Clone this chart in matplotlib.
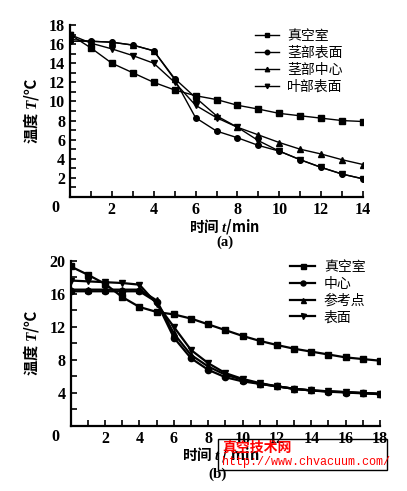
import matplotlib
matplotlib.use('Agg')
import matplotlib.pyplot as plt
from matplotlib.patches import Rectangle

plt.rcParams['font.family'] = ['Liberation Serif', 'Noto Sans CJK SC']
plt.rcParams['mathtext.fontset'] = 'custom'
plt.rcParams['mathtext.it'] = 'Liberation Serif:italic:bold'

CJK = ['Noto Sans CJK SC', 'DejaVu Sans']

# (a) data, t = 0..14 min
t_a = list(range(15))
a_vacuum = [17.0, 15.6, 14.0, 13.0, 12.0, 11.2, 10.6, 10.2, 9.6, 9.2, 8.75, 8.5, 8.25, 8.0, 7.9]
a_stem_surf = [16.3, 16.3, 16.2, 15.9, 15.3, 12.3, 8.3, 6.9, 6.2, 5.4, 4.8, 3.9, 3.1, 2.4, 1.9]
a_stem_core = [16.5, 16.3, 16.2, 15.9, 15.3, 12.4, 10.4, 8.5, 7.3, 6.5, 5.7, 5.0, 4.5, 3.9, 3.4]
a_leaf_surf = [17.0, 16.1, 15.5, 14.8, 14.0, 12.0, 9.6, 8.3, 7.3, 5.9, 4.8, 3.9, 3.1, 2.4, 1.9]
a_labels = ['真空室', '茎部表面', '茎部中心', '叶部表面']

# (b) data, t = 0..18 min
t_b = list(range(19))
b_vacuum = [19.3, 18.3, 17.2, 15.6, 14.4, 13.8, 13.5, 13.0, 12.3, 11.6, 10.9, 10.3, 9.8, 9.35, 9.0, 8.65, 8.3, 8.1, 7.9]
b_center = [16.3, 16.3, 16.3, 16.3, 16.3, 15.0, 10.7, 8.2, 6.8, 5.9, 5.4, 5.1, 4.8, 4.5, 4.3, 4.15, 4.05, 3.95, 3.85]
b_ref = [16.5, 16.5, 16.5, 16.5, 16.5, 15.2, 11.2, 8.6, 7.2, 6.2, 5.6, 5.1, 4.8, 4.5, 4.3, 4.2, 4.1, 4.0, 3.9]
b_surface = [17.6, 17.5, 17.4, 17.3, 17.1, 14.8, 12.0, 9.2, 7.6, 6.4, 5.7, 5.2, 4.8, 4.5, 4.3, 4.2, 4.1, 4.0, 3.9]
b_labels = ['真空室', '中心', '参考点', '表面']

markers = ['s', 'o', '^', 'v']

fig = plt.figure(figsize=(4.07, 4.91), dpi=100)
ax1 = fig.add_axes([70 / 407, 1 - 197 / 491, 293 / 407, 172 / 491])
ax2 = fig.add_axes([70.7 / 407, 1 - 426 / 491, 309.3 / 407, 165.3 / 491])


def style_axes(ax, xmax, ymax, ystep, ylab_step):
    for s in ['top', 'right']:
        ax.spines[s].set_visible(False)
    for s in ['left', 'bottom']:
        ax.spines[s].set_linewidth(1.6)
    ax.set_xlim(0, xmax)
    ax.set_ylim(0, ymax)
    ax.set_xticks(range(0, xmax + 1, 2))
    ax.set_xticks(range(0, xmax + 1), minor=True)
    ax.set_yticks(range(ylab_step, ymax + 1, ylab_step))
    ax.set_yticks(range(ystep, ymax + 1, ystep), minor=True)
    ax.tick_params(which='both', direction='in', length=4, width=1.2)
    ax.tick_params(labelsize=11.5)
    ax.set_xticklabels([''] + [str(v) for v in range(2, xmax + 1, 2)])
    for lab in ax.get_xticklabels() + ax.get_yticklabels():
        lab.set_fontweight('bold')
    ax.text(-0.035, -0.065, '0', transform=ax.transAxes, fontsize=11.5,
            fontweight='bold', ha='right', va='center')


style_axes(ax1, 14, 18, 1, 2)
style_axes(ax2, 18, 20, 2, 4)

for ys, m, lab in zip([a_vacuum, a_stem_surf, a_stem_core, a_leaf_surf], markers, a_labels):
    ax1.plot(t_a, ys, color='black', lw=1.0, marker=m, ms=4, label=lab)

for ys, m, lab in zip([b_vacuum, b_center, b_ref, b_surface], markers, b_labels):
    ax2.plot(t_b, ys, color='black', lw=1.6, marker=m, ms=4.5, label=lab)

ax1.legend(loc='upper left', bbox_to_anchor=(0.59, 1.05), frameon=False,
           handlelength=1.7, handletextpad=0.6, labelspacing=0.22, markerscale=0.8,
           prop={'family': CJK, 'size': 10})
ax2.legend(loc='upper left', bbox_to_anchor=(0.67, 1.08), frameon=False,
           handlelength=1.8, handletextpad=0.6, labelspacing=0.2, markerscale=0.8,
           prop={'family': CJK, 'size': 10})

ax1.set_ylabel('温度 $T$/℃', family=CJK, fontsize=11, fontweight='bold', labelpad=6)
ax2.set_ylabel('温度 $T$/℃', family=CJK, fontsize=11, fontweight='bold', labelpad=6)
ax1.set_xlabel('时间 $t$/min', family=CJK, fontsize=10.5, fontweight='bold', va='center')
ax2.set_xlabel('时间 $t$ / min', family=CJK, fontsize=10.5, fontweight='bold', va='center')
ax1.xaxis.set_label_coords(0.527, -(227 - 197) / 172)
ax2.xaxis.set_label_coords(0.486, -(455 - 426) / 165.3)
fig.text(225 / 407, 1 - 242 / 491, '(a)', fontsize=10.5, fontweight='bold', ha='center', va='center')
fig.text(218 / 407, 1 - 474 / 491, '(b)', fontsize=11, fontweight='bold', ha='center', va='center')

# watermark box
fig.patches.append(Rectangle((218 / 407, 1 - 470 / 491), 169 / 407, 31 / 491,
                             transform=fig.transFigure, fill=False, ec='black', lw=1))
fig.text(222 / 407, 1 - 447 / 491, '真空技术网', family=CJK, color='red', fontsize=10,
         fontweight='bold', ha='left', va='center')
fig.text(222 / 407, 1 - 462 / 491, 'http://www.chvacuum.com/', family='Liberation Mono',
         color='red', fontsize=8.5, ha='left', va='center')

fig.savefig('out.png', dpi=100)
